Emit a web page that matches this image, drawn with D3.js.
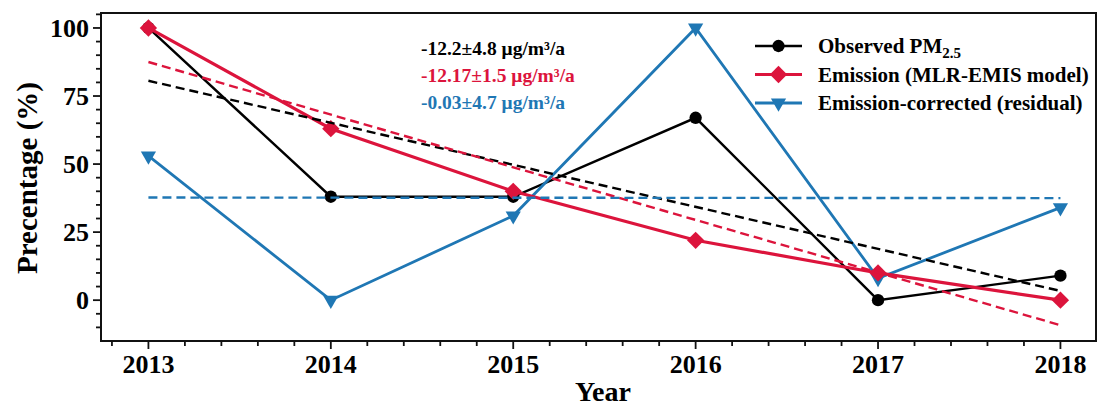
<!DOCTYPE html>
<html>
<head>
<meta charset="utf-8">
<script src="https://cdn.jsdelivr.net/npm/d3@7"></script>
<style>
  body { margin: 0; background: #fff; }
  text { font-family: "Liberation Serif", "Times New Roman", serif; font-weight: bold; }
</style>
</head>
<body>
<div id="chart"></div>
<script>
var width  = 1097;
var height = 407;

// data
var years    = [2013, 2014, 2015, 2016, 2017, 2018];
var observed = [100, 38, 38, 67, 0, 9];
var emission = [100, 63, 40, 22, 10, 0];
var residual = [53, 0, 31, 100, 8, 34];

// dashed trend lines: value at 2013 and at 2018
var trendObserved = [80.6, 3.4];
var trendEmission = [87.5, -9.2];
var trendResidual = [37.7, 37.5];

var seriesNames = ["Observed PM", "Emission (MLR-EMIS model)", "Emission-corrected (residual)"];
var trendLabels = ["-12.2\u00b14.8 \u03bcg/m\u00b3/a", "-12.17\u00b11.5 \u03bcg/m\u00b3/a", "-0.03\u00b14.7 \u03bcg/m\u00b3/a"];
var yTicks = [0, 25, 50, 75, 100];

var black = "#000000";
var red   = "#dc143c";
var blue  = "#1f77b4";

var m = {left: 101, right: 1096, top: 13, bottom: 341};

var svg = d3.select("#chart").append("svg")
            .attr("width", width)
            .attr("height", height);

var x = d3.scaleLinear().domain([2012.74, 2018.195]).range([m.left, m.right]);
var y = d3.scaleLinear().domain([-15, 105.5]).range([m.bottom, m.top]);

// frame
svg.append("rect")
   .attr("x", m.left).attr("y", m.top)
   .attr("width", m.right - m.left).attr("height", m.bottom - m.top)
   .attr("fill", "none").attr("stroke", "#111").attr("stroke-width", 2);

// y axis ticks
var yMinor = d3.range(-10, 106, 5);
svg.selectAll(".ytick").data(yMinor).enter().append("line")
   .attr("x1", function(d) { return d % 25 === 0 ? m.left - 8 : m.left - 5; })
   .attr("x2", m.left)
   .attr("y1", function(d) { return y(d); })
   .attr("y2", function(d) { return y(d); })
   .attr("stroke", "#111").attr("stroke-width", 1.8);

svg.selectAll(".ylab").data(yTicks).enter().append("text")
   .attr("x", m.left - 12)
   .attr("y", function(d) { return y(d) + 9; })
   .attr("text-anchor", "end")
   .attr("font-size", 26)
   .text(function(d) { return d; });

// x axis ticks
var xMinor = d3.range(0, 27).map(function(i) { return 2012.8 + i * 0.2; });
svg.selectAll(".xtick").data(xMinor).enter().append("line")
   .attr("x1", function(d) { return x(d); })
   .attr("x2", function(d) { return x(d); })
   .attr("y1", m.bottom)
   .attr("y2", function(d) { return Math.abs(d - Math.round(d)) < 0.01 ? m.bottom + 8 : m.bottom + 5; })
   .attr("stroke", "#111").attr("stroke-width", 1.8);

svg.selectAll(".xlab").data(years).enter().append("text")
   .attr("x", function(d) { return x(d); })
   .attr("y", 373)
   .attr("text-anchor", "middle")
   .attr("font-size", 26)
   .text(function(d) { return d; });

// axis titles
svg.append("text")
   .attr("x", 603).attr("y", 401)
   .attr("text-anchor", "middle")
   .attr("font-size", 28)
   .text("Year");

svg.append("text")
   .attr("transform", "translate(37,178) rotate(-90)")
   .attr("text-anchor", "middle")
   .attr("font-size", 29)
   .text("Precentage (%)");

var line = d3.line()
             .x(function(d, i) { return x(years[i]); })
             .y(function(d) { return y(d); });

var symbols = [d3.symbolCircle, d3.symbolSquare, d3.symbolTriangle];
var sizes   = [120, 150, 100];
var widths  = [2.4, 3.2, 2.8];
var series  = [[observed, black], [emission, red], [residual, blue]];

function drawMarker(g, k, cx, cy) {
  var rot = k === 1 ? "rotate(45)" : (k === 2 ? "rotate(180)" : "");
  g.append("path")
   .attr("d", d3.symbol().type(symbols[k]).size(sizes[k]))
   .attr("transform", "translate(" + cx + "," + cy + ") " + rot)
   .attr("fill", series[k][1]);
}

[0, 2, 1].forEach(function(k) {
  svg.append("path")
     .attr("d", line(series[k][0]))
     .attr("fill", "none")
     .attr("stroke", series[k][1])
     .attr("stroke-width", widths[k]);
  series[k][0].forEach(function(v, i) {
    drawMarker(svg, k, x(years[i]), y(v));
  });
});

// trend lines
var trends = [[trendObserved, black], [trendEmission, red], [trendResidual, blue]];
trends.forEach(function(t) {
  svg.append("line")
     .attr("x1", x(years[0])).attr("y1", y(t[0][0]))
     .attr("x2", x(years[years.length - 1])).attr("y2", y(t[0][1]))
     .attr("stroke", t[1]).attr("stroke-width", 2.4)
     .attr("stroke-dasharray", "9,5");
});

// trend annotations
var trendColors = [black, red, blue];
svg.selectAll(".ann").data(trendLabels).enter().append("text")
   .attr("x", 421)
   .attr("y", function(d, i) { return 55 + i * 27; })
   .attr("font-size", 19.5)
   .attr("fill", function(d, i) { return trendColors[i]; })
   .text(function(d) { return d; });

// legend
var legend = svg.append("g");
seriesNames.forEach(function(name, k) {
  var ly = 46 + k * 28.5;
  legend.append("line")
        .attr("x1", 755).attr("x2", 802)
        .attr("y1", ly).attr("y2", ly)
        .attr("stroke", series[k][1]).attr("stroke-width", widths[k]);
  drawMarker(legend, k, 778.5, ly);
  var t = legend.append("text")
                .attr("x", 818).attr("y", ly + 7)
                .attr("font-size", 21)
                .text(name);
  if (k === 0) {
    t.append("tspan").attr("font-size", 15).attr("dy", 5).text("2.5");
  }
});
</script>
</body>
</html>
